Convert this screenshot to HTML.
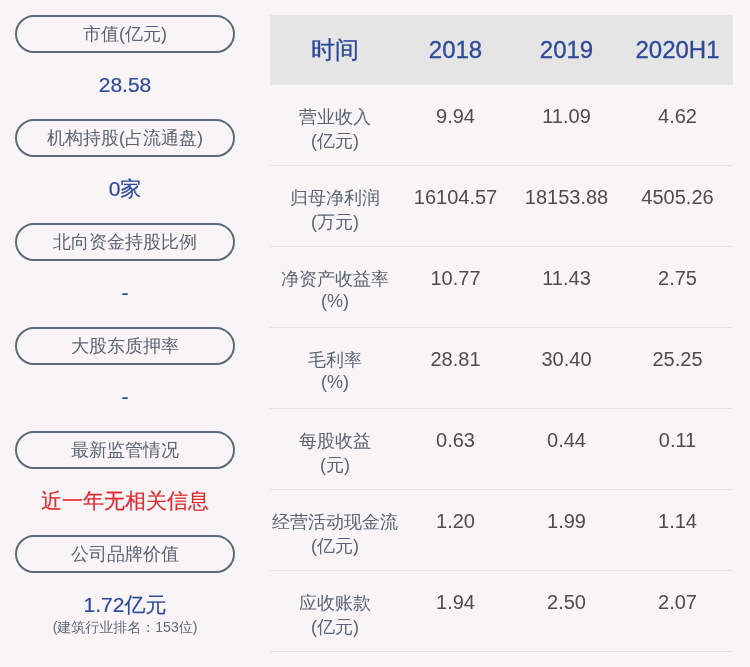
<!DOCTYPE html>
<html lang="zh-CN">
<head>
<meta charset="utf-8">
<title>财务数据</title>
<style>
html,body{margin:0;padding:0;}
body{width:750px;height:667px;background:#f9f5f6;overflow:hidden;position:relative;
  font-family:"Liberation Sans","WenQuanYi Zen Hei","Noto Sans CJK SC",sans-serif;}
.left{position:absolute;left:15px;top:15px;width:220px;}
.pill{box-sizing:border-box;width:220px;height:38px;border:2px solid #5c6b7a;border-radius:19px;
  text-align:center;font-size:18px;line-height:35px;color:#5a6473;}
.val{height:66px;text-align:center;font-size:21px;line-height:64px;color:#2d4a9a;-webkit-text-stroke:0.2px currentColor;}
.val.red{color:#de2a30;}
.val.two{line-height:normal;}
.val.two .big{display:block;font-size:21px;line-height:24px;padding-top:20px;}
.val.two .small{display:block;font-size:14px;line-height:18px;color:#5f6977;-webkit-text-stroke:0;position:relative;top:1px;}
table{position:absolute;left:270px;top:15px;width:463px;border-collapse:collapse;table-layout:fixed;}
th{height:70px;background:#e5e5e5;color:#2d4a9a;font-weight:normal;font-size:24px;padding:0;text-align:center;-webkit-text-stroke:0.3px currentColor;}
td{height:80px;border-bottom:1px solid #e4e2e3;padding:0;text-align:center;vertical-align:top;
  font-size:20px;color:#4d4d4d;}
td .n{display:block;padding-top:19px;line-height:24px;}
td.lab{font-size:18px;color:#5a6473;}
td.lab .n{padding-top:20px;line-height:normal;}
</style>
</head>
<body>
<div class="left">
  <div class="pill">市值(亿元)</div>
  <div class="val">28.58</div>
  <div class="pill">机构持股(占流通盘)</div>
  <div class="val">0家</div>
  <div class="pill">北向资金持股比例</div>
  <div class="val">-</div>
  <div class="pill">大股东质押率</div>
  <div class="val">-</div>
  <div class="pill">最新监管情况</div>
  <div class="val red">近一年无相关信息</div>
  <div class="pill">公司品牌价值</div>
  <div class="val two"><span class="big">1.72亿元</span><span class="small">(建筑行业排名：153位)</span></div>
</div>
<table>
  <colgroup><col style="width:130px"><col style="width:111px"><col style="width:111px"><col style="width:111px"></colgroup>
  <tr><th>时间</th><th>2018</th><th>2019</th><th>2020H1</th></tr>
  <tr><td class="lab"><span class="n">营业收入<br>(亿元)</span></td><td><span class="n">9.94</span></td><td><span class="n">11.09</span></td><td><span class="n">4.62</span></td></tr>
  <tr><td class="lab"><span class="n">归母净利润<br>(万元)</span></td><td><span class="n">16104.57</span></td><td><span class="n">18153.88</span></td><td><span class="n">4505.26</span></td></tr>
  <tr><td class="lab"><span class="n">净资产收益率<br>(%)</span></td><td><span class="n">10.77</span></td><td><span class="n">11.43</span></td><td><span class="n">2.75</span></td></tr>
  <tr><td class="lab"><span class="n">毛利率<br>(%)</span></td><td><span class="n">28.81</span></td><td><span class="n">30.40</span></td><td><span class="n">25.25</span></td></tr>
  <tr><td class="lab"><span class="n">每股收益<br>(元)</span></td><td><span class="n">0.63</span></td><td><span class="n">0.44</span></td><td><span class="n">0.11</span></td></tr>
  <tr><td class="lab"><span class="n">经营活动现金流<br>(亿元)</span></td><td><span class="n">1.20</span></td><td><span class="n">1.99</span></td><td><span class="n">1.14</span></td></tr>
  <tr><td class="lab"><span class="n">应收账款<br>(亿元)</span></td><td><span class="n">1.94</span></td><td><span class="n">2.50</span></td><td><span class="n">2.07</span></td></tr>
</table>
</body>
</html>
